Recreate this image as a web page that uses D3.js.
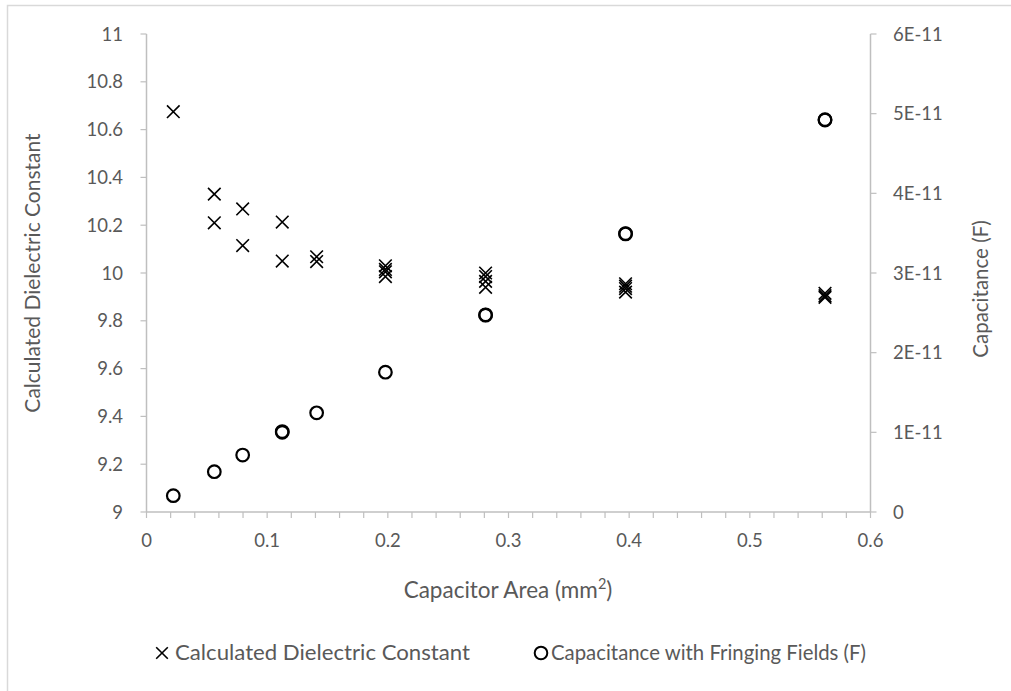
<!DOCTYPE html>
<html><head><meta charset="utf-8">
<script src="https://cdn.jsdelivr.net/npm/d3@7"></script>
<style>body{margin:0;background:#fff}svg{display:block}text{font-family:Lato,"Open Sans",sans-serif}</style>
</head><body><svg id="c" width="1011" height="691"></svg>
<script>
const dielectricArea = [0.0222,0.0562,0.0562,0.0797,0.0797,0.1125,0.1125,0.141,0.141,0.198,0.198,0.198,0.198,0.281,0.281,0.281,0.281,0.397,0.397,0.397,0.397,0.5623,0.5623,0.5623];
const dielectricValue = [10.675,10.33,10.21,10.268,10.115,10.213,10.05,10.068,10.048,10.03,10.015,10.005,9.985,10.0,9.985,9.965,9.94,9.955,9.945,9.935,9.92,9.915,9.905,9.898];
const capArea = [0.0222,0.0562,0.0797,0.1125,0.1125,0.141,0.198,0.281,0.281,0.397,0.397,0.5623,0.5623];
const capValue = [2.05e-12,5.06e-12,7.15e-12,1.0e-11,1.01e-11,1.245e-11,1.755e-11,2.47e-11,2.475e-11,3.49e-11,3.495e-11,4.92e-11,4.925e-11];
const xTicks = [0,0.1,0.2,0.3,0.4,0.5,0.6];
const xTickLabels = ["0","0.1","0.2","0.3","0.4","0.5","0.6"];
const yLeftTicks = [9,9.2,9.4,9.6,9.8,10,10.2,10.4,10.6,10.8,11];
const yLeftLabels = ["9","9.2","9.4","9.6","9.8","10","10.2","10.4","10.6","10.8","11"];
const yRightTicks = [0,1e-11,2e-11,3e-11,4e-11,5e-11,6e-11];
const yRightLabels = ["0","1E-11","2E-11","3E-11","4E-11","5E-11","6E-11"];

const svg = d3.select("#c");
const L=146.5, R=870.5, T=34, B=512;
const x = d3.scaleLinear().domain([0,0.6]).range([L,R]);
const yL = d3.scaleLinear().domain([9,11]).range([B,T]);
const yR = d3.scaleLinear().domain([0,6e-11]).range([B,T]);
const axisCol = "#bfbfbf", textCol = "#595959";
const tickFont = 18.5;

svg.append("rect").attr("x",7.5).attr("y",5.5).attr("width",1100).attr("height",800)
  .attr("fill","none").attr("stroke","#d9d9d9").attr("stroke-width",1.5);

// x axis
const minor = d3.range(0,0.6001,0.02);
const gx = svg.append("g");
gx.append("line").attr("x1",L).attr("x2",R).attr("y1",B).attr("y2",B).attr("stroke",axisCol).attr("stroke-width",1.5);
gx.selectAll("line.t").data(minor).join("line").attr("class","t")
  .attr("x1",d=>x(d)).attr("x2",d=>x(d)).attr("y1",B).attr("y2",B+6).attr("stroke",axisCol).attr("stroke-width",1.2);
gx.selectAll("text").data(xTicks).join("text").attr("x",d=>x(d)).attr("y",B+35)
  .attr("text-anchor","middle").attr("fill",textCol).attr("font-size",tickFont).text((d,i)=>xTickLabels[i]);

// left axis
const gl = svg.append("g");
gl.append("line").attr("x1",L).attr("x2",L).attr("y1",T).attr("y2",B).attr("stroke",axisCol).attr("stroke-width",1.5);
gl.selectAll("line.t").data(yLeftTicks).join("line").attr("class","t")
  .attr("x1",L-6).attr("x2",L).attr("y1",d=>yL(d)).attr("y2",d=>yL(d)).attr("stroke",axisCol).attr("stroke-width",1.2);
gl.selectAll("text").data(yLeftTicks).join("text").attr("x",123).attr("y",d=>yL(d)+6.5)
  .attr("text-anchor","end").attr("fill",textCol).attr("font-size",tickFont).text((d,i)=>yLeftLabels[i]);

// right axis
const gr = svg.append("g");
gr.append("line").attr("x1",R).attr("x2",R).attr("y1",T).attr("y2",B).attr("stroke",axisCol).attr("stroke-width",1.5);
gr.selectAll("line.t").data(yRightTicks).join("line").attr("class","t")
  .attr("x1",R).attr("x2",R+6).attr("y1",d=>yR(d)).attr("y2",d=>yR(d)).attr("stroke",axisCol).attr("stroke-width",1.2);
gr.selectAll("text").data(yRightTicks).join("text").attr("x",893).attr("y",d=>yR(d)+6.5)
  .attr("text-anchor","start").attr("fill",textCol).attr("font-size",tickFont).text((d,i)=>yRightLabels[i]);

// titles
svg.append("text").attr("transform","translate(40,273) rotate(-90)").attr("text-anchor","middle")
  .attr("fill",textCol).attr("font-size",21).text("Calculated Dielectric Constant");
svg.append("text").attr("transform","translate(988,289) rotate(-90)").attr("text-anchor","middle")
  .attr("fill",textCol).attr("font-size",20.5).text("Capacitance (F)");
const xt = svg.append("text").attr("x",508).attr("y",598).attr("text-anchor","middle").attr("fill",textCol).attr("font-size",22.5);
xt.append("tspan").text("Capacitor Area (mm");
xt.append("tspan").attr("font-size",14.5).attr("dy",-9).text("2");
xt.append("tspan").attr("dy",9).text(")");

// markers
function cross(g,cx,cy,s){
  g.append("path").attr("d",`M${cx-s},${cy-s}L${cx+s},${cy+s}M${cx-s},${cy+s}L${cx+s},${cy-s}`)
   .attr("stroke","#000").attr("stroke-width",1.6).attr("fill","none");
}
const gm = svg.append("g");
dielectricArea.forEach((a,i)=>cross(gm,x(a),yL(dielectricValue[i]),6.3));
gm.selectAll("circle").data(capArea).join("circle").attr("cx",d=>x(d)).attr("cy",(d,i)=>yR(capValue[i]))
  .attr("r",6.3).attr("fill","none").attr("stroke","#000").attr("stroke-width",2.2);

// legend
const lg = svg.append("g");
cross(lg,162,653,5.8);
lg.append("text").attr("x",175).attr("y",660).attr("fill",textCol).attr("font-size",21)
  .attr("textLength",295).attr("lengthAdjust","spacingAndGlyphs").text("Calculated Dielectric Constant");
lg.append("circle").attr("cx",541).attr("cy",653).attr("r",6.3).attr("fill","none").attr("stroke","#000").attr("stroke-width",2);
lg.append("text").attr("x",551).attr("y",660).attr("fill",textCol).attr("font-size",21)
  .attr("textLength",315).attr("lengthAdjust","spacingAndGlyphs").text("Capacitance with Fringing Fields (F)");
</script></body></html>
